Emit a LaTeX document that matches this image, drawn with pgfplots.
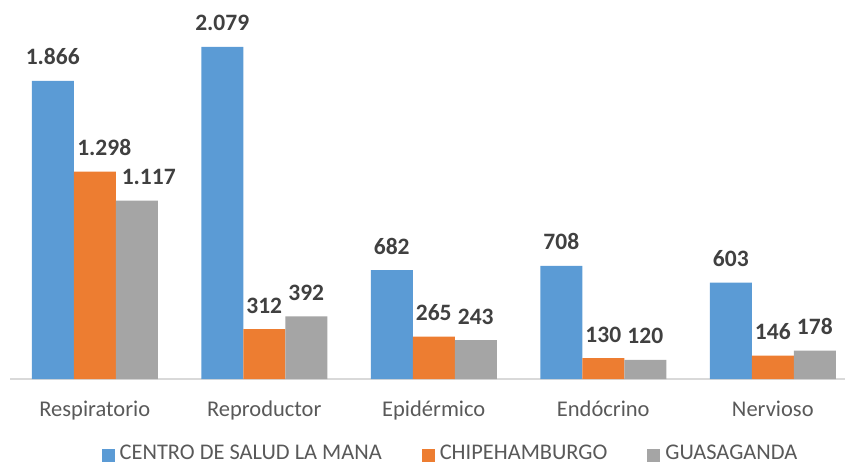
\documentclass[border=0pt]{standalone}
\usepackage{fontspec}
\setmainfont{Carlito}
\usepackage{pgfplots}
\pgfplotsset{compat=1.18}
\definecolor{cblue}{HTML}{5B9BD5}
\definecolor{corange}{HTML}{ED7D31}
\definecolor{cgray}{HTML}{A5A5A5}
\definecolor{tdark}{HTML}{404040}
\definecolor{tmid}{HTML}{595959}
\definecolor{aline}{HTML}{D9D9D9}
\begin{document}
\begin{tikzpicture}
\begin{axis}[
  at={(10bp,86bp)}, anchor=south west,
  scale only axis, width=835bp, height=379bp,
  xmin=-0.5, xmax=4.426, ymin=0, ymax=2373,
  ybar=0pt, bar width=42bp,
  axis y line=none, axis x line*=bottom,
  x axis line style={draw=aline, line width=1.2bp},
  xtick=data, major tick length=0pt,
  xticklabels={Respiratorio,Reproductor,Epidérmico,Endócrino,Nervioso},
  xticklabel style={font=\fontsize{22.5bp}{27bp}\selectfont, text=tmid, anchor=base, yshift=-37bp},
  clip=false,
  /pgf/number format/1000 sep={.},
  /pgf/number format/assume math mode=true,
  nodes near coords,
  visualization depends on={value \thisrow{dx} \as \dx},
  every node near coord/.append style={font=\bfseries\fontsize{23.5bp}{28bp}\selectfont, text=tdark, inner sep=0pt, anchor=base, yshift=16bp, xshift=\dx bp},
  legend columns=3,
  legend image code/.code={\fill[#1] (0bp,-8.5bp) rectangle (13bp,4.5bp);},
  legend style={at={(axis description cs:0.5263,-0.1740)}, anchor=north, draw=none, inner sep=0pt,
    nodes={inner sep=0pt},
    font=\fontsize{22.4bp}{27bp}\selectfont, text=tmid,
    /tikz/every odd column/.append style={column sep=5bp},
    /tikz/every even column/.append style={column sep=40bp}},
]
\addplot[fill=cblue, draw=none] table[x=x, y=y] {
x y dx
0 1866 0
1 2079 0
2 682 0
3 708 0
4 603 0
};
\addplot[fill=corange, draw=none] table[x=x, y=y] {
x y dx
0 1298 9.5
1 312 0
2 265 0
3 130 0
4 146 0
};
\addplot[fill=cgray, draw=none] table[x=x, y=y] {
x y dx
0 1117 12
1 392 0
2 243 0
3 120 0
4 178 0
};
\legend{CENTRO DE SALUD LA MANA, CHIPEHAMBURGO, GUASAGANDA}
\end{axis}
\pgfresetboundingbox
\path[use as bounding box] (0,0) rectangle (847bp,465bp);
\end{tikzpicture}
\end{document}
